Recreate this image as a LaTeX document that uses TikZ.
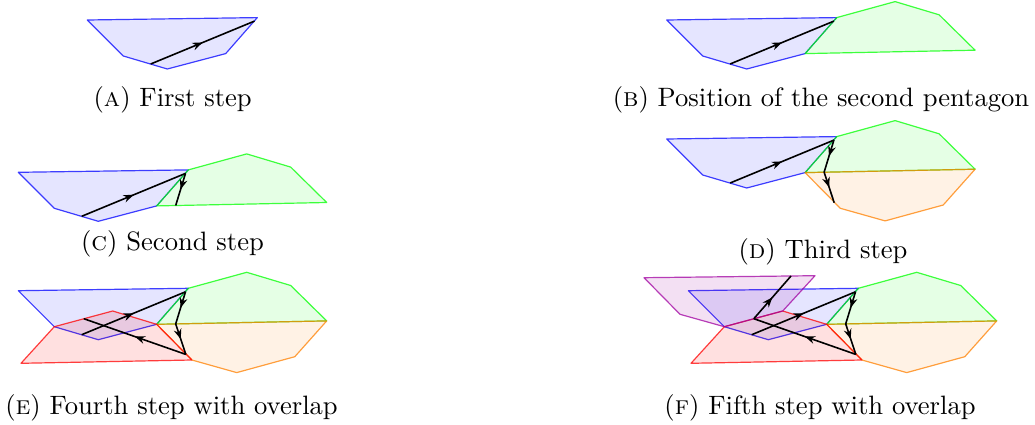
\documentclass[tikz,border=0pt]{standalone}
\usetikzlibrary{decorations.markings,arrows.meta}
\definecolor{mypurple}{RGB}{160,0,160}
\tikzset{
  x=0.376pt, y=-0.376pt,
  poly/.style={line width=0.45pt, line join=round, draw opacity=0.75},
  bluepoly/.style={poly, draw=blue, fill=blue, fill opacity=0.1},
  greenpoly/.style={poly, draw=green, fill=green, fill opacity=0.1},
  orangepoly/.style={poly, draw=orange, fill=orange, fill opacity=0.1},
  redpoly/.style={poly, draw=red, fill=red, fill opacity=0.12},
  purplepoly/.style={poly, draw=mypurple, fill=mypurple, fill opacity=0.12},
  arr/.style={line width=0.6pt, black, postaction={decorate},
    decoration={markings, mark=at position 0.5 with {\arrow{Stealth[length=3.8pt,width=2.9pt]}}}},
  captext/.style={anchor=base, inner sep=0pt, font=\normalsize}
}
\newcommand\mkpts[1]{%
  \coordinate (#1b1) at (0,0);
  \coordinate (#1b2) at (170,-2.4);
  \coordinate (#1b3) at (138.4,33.6);
  \coordinate (#1b4) at (80,49);
  \coordinate (#1b5) at (36,36);
  \coordinate (#1g2) at (228.4,-18.4);
  \coordinate (#1g3) at (272.4,-5.2);
  \coordinate (#1g4) at (308.4,30.2);
  \coordinate (#1o3) at (276.5,66);
  \coordinate (#1o4) at (218.4,81.9);
  \coordinate (#1o5) at (173.6,69.3);
  \coordinate (#1r2) at (94.4,20.3);
  \coordinate (#1r5) at (2.7,72.6);
  \coordinate (#1p1) at (-44.3,-13);
  \coordinate (#1p2) at (126.7,-15);
  \coordinate (#1p5) at (-8.3,23.6);
  \coordinate (#1q0) at (63.4,44.0);
  \coordinate (#1q1) at (167.2,1.1);
  \coordinate (#1q2) at (157.4,33.2);
  \coordinate (#1q3) at (167.5,63.7);
  \coordinate (#1q4) at (65.5,28.0);
  \coordinate (#1q5) at (102.7,-14.7);
}
\newcommand\bluepg[1]{\draw[bluepoly] (#1b1) -- (#1b2) -- (#1b3) -- (#1b4) -- (#1b5) -- cycle;}
\newcommand\greenpg[1]{\draw[greenpoly] (#1b2) -- (#1g2) -- (#1g3) -- (#1g4) -- (#1b3) -- cycle;}
\newcommand\orangepg[1]{\draw[orangepoly] (#1b3) -- (#1g4) -- (#1o3) -- (#1o4) -- (#1o5) -- cycle;}
\newcommand\redpg[1]{\draw[redpoly] (#1b5) -- (#1r2) -- (#1b3) -- (#1o5) -- (#1r5) -- cycle;}
\newcommand\purplepg[1]{\draw[purplepoly] (#1p1) -- (#1p2) -- (#1r2) -- (#1b5) -- (#1p5) -- cycle;}
\begin{document}
\begin{tikzpicture}
\useasboundingbox (0,0) rectangle (1035,424);
% (a)
\begin{scope}[shift={(87.3,20)}]
  \mkpts{A}
  \bluepg{A}
  \draw[arr] (Aq0) -- (Aq1);
\end{scope}
% (b)
\begin{scope}[shift={(666.7,20)}]
  \mkpts{B}
  \bluepg{B}\greenpg{B}
  \draw[arr] (Bq0) -- (Bq1);
\end{scope}
% (c)
\begin{scope}[shift={(18.3,172.3)}]
  \mkpts{C}
  \bluepg{C}\greenpg{C}
  \draw[arr] (Cq0) -- (Cq1);
  \draw[arr] (Cq1) -- (Cq2);
\end{scope}
% (d)
\begin{scope}[shift={(666.7,139)}]
  \mkpts{D}
  \bluepg{D}\greenpg{D}\orangepg{D}
  \draw[arr] (Dq0) -- (Dq1);
  \draw[arr] (Dq1) -- (Dq2);
  \draw[arr] (Dq2) -- (Dq3);
\end{scope}
% (e)
\begin{scope}[shift={(18.3,290.7)}]
  \mkpts{E}
  \bluepg{E}\greenpg{E}\orangepg{E}\redpg{E}
  \draw[arr] (Eq0) -- (Eq1);
  \draw[arr] (Eq1) -- (Eq2);
  \draw[arr] (Eq2) -- (Eq3);
  \draw[arr] (Eq3) -- (Eq4);
\end{scope}
% (f)
\begin{scope}[shift={(688.3,290.7)}]
  \mkpts{F}
  \bluepg{F}\greenpg{F}\orangepg{F}\redpg{F}\purplepg{F}
  \draw[arr] (Fq0) -- (Fq1);
  \draw[arr] (Fq1) -- (Fq2);
  \draw[arr] (Fq2) -- (Fq3);
  \draw[arr] (Fq3) -- (Fq4);
  \draw[arr] (Fq4) -- (Fq5);
\end{scope}
% captions
\node[captext] (capA) at (172.7,106.7) {(\textsc{a})\ First step};
\node[captext] (capB) at (821,106.7) {(\textsc{b})\ Position of the second pentagon};
\node[captext] (capC) at (172.5,250.5) {(\textsc{c})\ Second step};
\node[captext] (capD) at (823,258.3) {(\textsc{d})\ Third step};
\node[captext] (capE) at (171.5,414) {(\textsc{e})\ Fourth step with overlap};
\node[captext] (capF) at (820,414) {(\textsc{f})\ Fifth step with overlap};
\end{tikzpicture}
\end{document}
